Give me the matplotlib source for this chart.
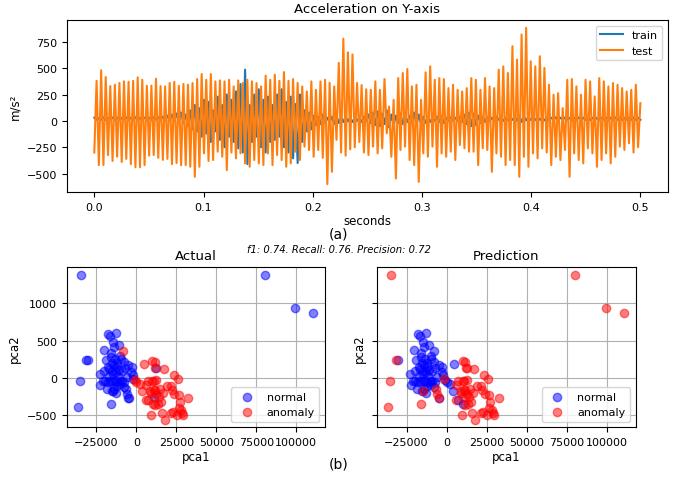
import numpy as np
import matplotlib
matplotlib.use("Agg")
import matplotlib.pyplot as plt

plt.rcParams["font.size"] = 8
plt.rcParams["axes.labelsize"] = 8.5

# ---- (a) acceleration signal: per-cycle highs and lows ----
test_lo = [-300, -419, -419, -324, -380, -340, -390, -360, -410, -440,
           -440, -419, -330, -324, -350, -370, -360, -410, -400, -420,
           -419, -435, -530, -435, -308, -380, -371, -292, -340, -467,
           -300, -355, -308, -403, -435, -371, -403, -419, -308, -419,
           -324, -371, -435, -403, -292, -371, -244, -276, -340, -276,
           -350, -600, -483, -180, -300, -330, -270, -250, -200, -300,
           -324, -244, -308, -260, -118, -340, -546, -276, -244, -371,
           -419, -578, -308, -340, -244, -435, -308, -340, -292, -371,
           -229, -260, -292, -292, -419, -260, -276, -483, -308, -340,
           -419, -371, -419, -530, -340, -435, -308, -355, -260, -300,
           -419, -340, -371, -276, -530, -308, -371, -403, -260, -308,
           -435, -371, -308, -403, -340, -244, -276, -212, -300, -250]
test_hi = [380, 480, 416, 330, 343, 360, 375, 371, 380, 413,
           390, 333, 335, 400, 330, 327, 360, 370, 333, 350,
           343, 359, 397, 444, 390, 444, 375, 384, 375, 390,
           327, 384, 359, 390, 375, 359, 327, 429, 390, 438,
           380, 463, 380, 397, 360, 327, 280, 375, 295, 375,
           390, 360, 327, 550, 780, 650, 630, 360, 340, 300,
           295, 375, 295, 397, 136, 200, 406, 454, 492, 327,
           343, 200, 460, 517, 390, 406, 397, 311, 343, 295,
           279, 311, 406, 390, 295, 406, 327, 311, 486, 517,
           454, 708, 581, 819, 883, 565, 517, 613, 502, 343,
           248, 263, 121, 390, 397, 327, 248, 390, 375, 232,
           406, 375, 327, 359, 343, 311, 279, 295, 343, 168]

train_lo = [10, 12, 8, 14, 10, 9, 12, 10, 11, 8,
            12, 10, 9, 11, 10, 8, 5, 0, -10, -20,
            -50, -80, -100, -150, -120, -200, -100, -180, -250, -150,
            -200, -260, -300, -410, -200, -150, -250, -300, -200, -180,
            -150, -250, -300, -355, -400, -200, -100, -80, -40, -30,
            -20, -10, -30, -20, -10, -5, -10, 0, -10, 0,
            -20, -40, -50, -30, -60, -40, -20, -30, -10, -20,
            -40, -30, -20, -10, 0, -10, -20, 0, 5, 0,
            -10, -30, -50, -40, -20, -10, 0, 5, 10, 0,
            5, 10, 0, -10, 5, 10, 8, 10, 5, 10,
            10, 8, 12, 10, 5, 10, 12, 10, 8, 10,
            12, 10, 9, 12, 10, 8, 12, 10, 9, 10]
train_hi = [30, 25, 35, 28, 32, 30, 27, 33, 30, 35,
            28, 32, 30, 36, 34, 40, 50, 60, 70, 80,
            60, 100, 150, 120, 200, 180, 100, 230, 150, 250,
            200, 280, 350, 486, 150, 250, 300, 200, 230, 150,
            250, 300, 180, 230, 160, 250, 100, 80, 50, 40,
            60, 30, 40, 50, 30, 40, 30, 25, 30, 40,
            60, 80, 90, 70, 100, 60, 50, 70, 40, 50,
            80, 60, 40, 35, 30, 40, 45, 30, 35, 30,
            40, 60, 80, 70, 50, 40, 35, 30, 40, 35,
            30, 35, 40, 50, 40, 35, 30, 35, 30, 30,
            30, 35, 30, 32, 28, 30, 33, 30, 32, 30,
            28, 30, 32, 30, 33, 30, 28, 30, 32, 30]

# ---- (b) PCA scatter, split by (actual, predicted) ----
# normal predicted normal
tn_x = [-17700, -12900, -16700, -14600, -11000, -14000, -20400, -22900, -22500, -21000,
        -19500, -18000, -16500, -15000, -13500, -12000, -10500, -9000, -7500, -19000,
        -17500, -16800, -16000, -15500, -15000, -14500, -14000, -13500, -13000, -12500,
        -12000, -11500, -11000, -10000, -9500, -9000, -8000, -7000, -6000, -5000,
        -4600, -2900, -3100, -2100, -18500, -15500, -13000, -8000, -17000, -20000,
        -15800, -12000, -10000, -14000, -30500]
tn_y = [590, 597, 566, 487, 442, 412, 380, 58, -97, -40,
        -45, -50, -40, -45, -40, -50, -35, -45, -55, 235,
        150, 120, 280, 200, 100, 50, 170, 250, 80, 150,
        200, 30, 110, 300, 260, 100, 210, 140, 20, 180,
        -265, 146, 80, 35, -150, -180, -200, -120, 30, 100,
        340, -100, -80, -150, 235]
# normal predicted anomaly
fp_x = [-34800, 80200, 99400, 110600, -35400, -36250, -31250, -6500, -5900, -5000,
        -16000, -14900, -1900, 12500, 10800]
fp_y = [1385, 1385, 934, 872, -35, -390, 235, -150, -208, -265,
        -345, -177, -9, 133, -252]
# anomaly predicted normal
fn_x = [4600, 0, 2100, 3750, 7300, 10400, -1000, -8100]
fn_y = [190, -53, -84, -177, -288, -354, -30, 358]
# anomaly predicted anomaly
tp_x = [10000, 11500, 11900, 17100, 23300, 26000, 9400, 11500, 8750, 10800,
        12500, 14600, 16700, 15400, 16000, 17700, 21700, 22700, 25200, 21500,
        22300, 23800, 26700, 27300, 26500, 28100, 28750, 29400, 32500, 5800,
        7300, 10000, 10800, 12500, 11500, 13500, 9000, 6000, 14000, 19000]
tp_y = [226, 212, 133, 124, 44, -18, -496, -363, -177, -164,
        -208, -142, -195, -319, -473, -562, -473, -460, -496, -106,
        -164, -208, -221, -319, -407, -429, -473, -496, -265, -88,
        -44, -40, -44, -31, -155, -341, -200, -300, -250, -100]

metrics_text = "f1: 0.74. Recall: 0.76. Precision: 0.72"


def interleave(first, second):
    y = np.empty(len(first) + len(second))
    y[0::2] = first
    y[1::2] = second
    return y


fig = plt.figure(figsize=(6.78, 4.81), dpi=100)

# top panel
ax = fig.add_axes([0.0988, 0.5988, 0.886, 0.3576])
# train swings the other way round from test, so it peeks out between the spikes
train_y = interleave(train_hi, train_lo)
test_y = interleave(test_lo, test_hi)
t = np.linspace(0, 0.5, len(test_y))
ax.plot(t, train_y, color="tab:blue", lw=1.5, label="train")
ax.plot(t, test_y, color="tab:orange", lw=1.5, label="test")
ax.set_title("Acceleration on Y-axis", fontsize=9.5)
ax.set_xlabel("seconds", labelpad=2)
ax.set_ylabel("m/s²")
ax.set_yticks([-500, -250, 0, 250, 500, 750])
ax.legend(loc="upper right")
fig.text(0.5, 1 - 235 / 481, "(a)", ha="center", va="center", fontsize=10)

fig.text(0.5, 1 - 250 / 481, metrics_text, ha="center", va="center",
         style="italic", fontsize=7.2)

# bottom panels
ax_act = fig.add_axes([0.0983, 0.1096, 0.381, 0.3326])
ax_pred = fig.add_axes([0.5556, 0.1096, 0.382, 0.3326], sharey=ax_act)

act_nx, act_ny = tn_x + fp_x, tn_y + fp_y
act_anx, act_any = fn_x + tp_x, fn_y + tp_y
pred_nx, pred_ny = tn_x + fn_x, tn_y + fn_y
pred_anx, pred_any = fp_x + tp_x, fp_y + tp_y

for a, title, nx, ny, anx, any_ in [
        (ax_act, "Actual", act_nx, act_ny, act_anx, act_any),
        (ax_pred, "Prediction", pred_nx, pred_ny, pred_anx, pred_any)]:
    a.scatter(nx, ny, color="blue", alpha=0.5, s=36, label="normal", zorder=3)
    a.scatter(anx, any_, color="red", alpha=0.5, s=36, label="anomaly", zorder=3)
    a.set_title(title, fontsize=9.5)
    a.set_xlabel("pca1", labelpad=2)
    a.set_ylabel("pca2")
    a.set_xticks([-25000, 0, 25000, 50000, 75000, 100000])
    a.grid(True)
    a.legend(loc="lower right", scatterpoints=1)

ax_act.set_yticks([-500, 0, 500, 1000])
plt.setp(ax_pred.get_yticklabels(), visible=False)

fig.text(0.5, 1 - 465 / 481, "(b)", ha="center", va="center", fontsize=10)

plt.savefig("out.png", dpi=100)
